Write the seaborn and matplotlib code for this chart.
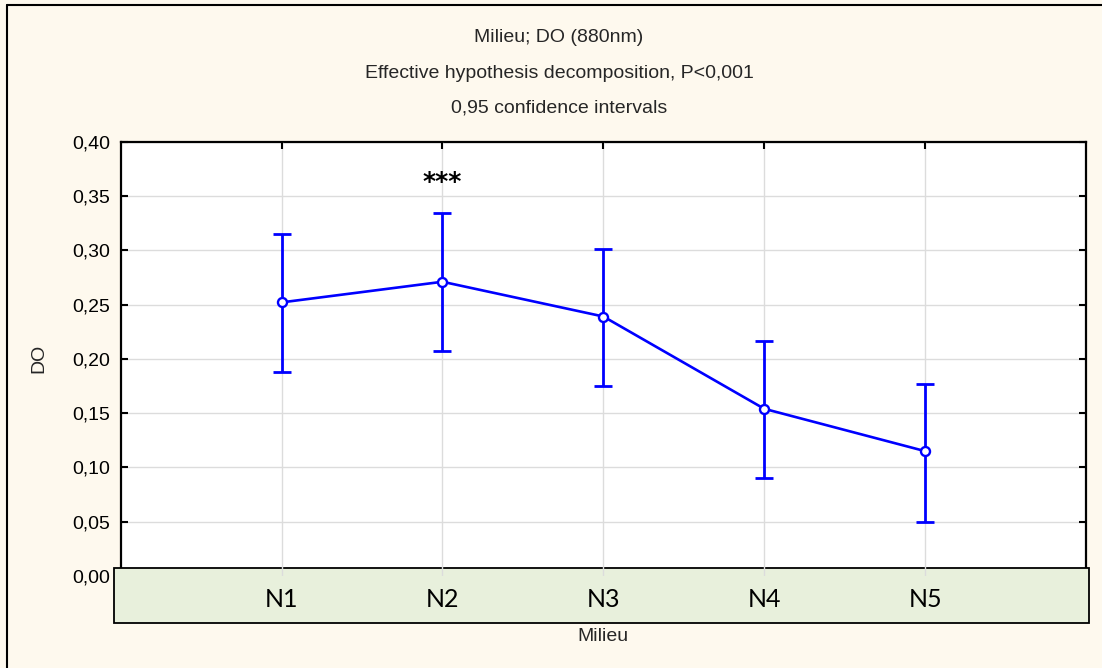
import matplotlib
matplotlib.use("Agg")
import matplotlib.pyplot as plt
import pandas as pd
import seaborn as sns
from matplotlib.patches import Rectangle
from matplotlib.lines import Line2D

# Data (means and 0.95 confidence limits)
milieu = ["N1", "N2", "N3", "N4", "N5"]
do_mean = [0.252, 0.271, 0.239, 0.154, 0.115]
ci_low = [0.188, 0.207, 0.175, 0.090, 0.050]
ci_high = [0.315, 0.334, 0.301, 0.216, 0.177]

y_ticks = [0.00, 0.05, 0.10, 0.15, 0.20, 0.25, 0.30, 0.35, 0.40]
y_tick_labels = ["0,00", "0,05", "0,10", "0,15", "0,20", "0,25", "0,30", "0,35", "0,40"]

title_lines = ["Milieu; DO (880nm)",
               "Effective hypothesis decomposition, P<0,001",
               "0,95 confidence intervals"]
signif_label = "***"
signif_group = "N2"

df = pd.DataFrame({"Milieu": milieu, "DO": do_mean, "low": ci_low, "high": ci_high})
df["pos"] = range(len(df))

sns.set_style("white")
plt.rcParams["font.family"] = ["Liberation Sans", "DejaVu Sans"]

W, H = 1102, 668
fig = plt.figure(figsize=(W / 100, H / 100), dpi=100, facecolor="#FEF9EE")
ax = fig.add_axes([120.7 / W, 1 - 576 / H, (1086 - 120.7) / W, (576 - 141.7) / H])
ax.set_facecolor("white")

# error bars first, then the mean line with hollow markers on top
ax.errorbar(df["pos"], df["DO"],
            yerr=[df["DO"] - df["low"], df["high"] - df["DO"]],
            fmt="none", ecolor="#0000FF", elinewidth=2.0, capsize=6.5,
            capthick=2.0, zorder=4)
sns.lineplot(data=df, x="pos", y="DO", ax=ax, color="#0000FF", linewidth=1.9,
             marker="o", markersize=6.5, markerfacecolor="white",
             markeredgecolor="#0000FF", markeredgewidth=1.7, zorder=5)

# significance stars above N2
ax.text(milieu.index(signif_group), 0.356, signif_label, ha="center", va="baseline",
        fontsize=18, fontweight="bold", family="DejaVu Sans", color="black")

ax.set_xlim(-1, 5)
ax.set_ylim(0, 0.40)
ax.set_xticks(df["pos"])
ax.set_xticklabels(milieu, fontsize=18, family="Lato")
ax.set_yticks(y_ticks)
ax.set_yticklabels(y_tick_labels, fontsize=14)

ax.grid(True, color="#DCDCDC", linewidth=1.0)
ax.tick_params(axis="y", direction="in", left=True, right=True, length=5,
               width=1.5, pad=7.5, colors="black")
ax.tick_params(axis="x", direction="in", top=True, bottom=False, length=5,
               width=1.5, pad=8.5, colors="black")

for side in ["left", "right", "top"]:
    ax.spines[side].set_visible(True)
    ax.spines[side].set_color("black")
    ax.spines[side].set_linewidth(1.6)
ax.spines["bottom"].set_visible(False)

# light green strip holding the category labels
strip = Rectangle((-0.0069, -0.1075), 1.0097, 0.1252, transform=ax.transAxes,
                  facecolor="#E8F0DC", edgecolor="black", linewidth=1.3,
                  clip_on=False, zorder=2.6)
ax.add_patch(strip)
ax.xaxis.set_zorder(2.7)

ax.set_xlabel("Milieu", fontsize=14)
ax.xaxis.set_label_coords(0.5, -0.12)
ax.set_ylabel("DO", fontsize=14)
ax.yaxis.set_label_coords(-0.076, 0.5)

# three-line title
for txt, ypix in zip(title_lines, [38, 73, 108]):
    fig.text(559 / W, 1 - ypix / H, txt, ha="center", va="center", fontsize=14)

# frame around the figure (left and top edges visible)
fig.add_artist(Line2D([6.7 / W, 6.7 / W], [0, 1 - 4.7 / H], color="black", linewidth=1.5))
fig.add_artist(Line2D([6.7 / W, 1], [1 - 4.7 / H, 1 - 4.7 / H], color="black", linewidth=1.5))

fig.savefig("out.png", dpi=100, facecolor=fig.get_facecolor())
